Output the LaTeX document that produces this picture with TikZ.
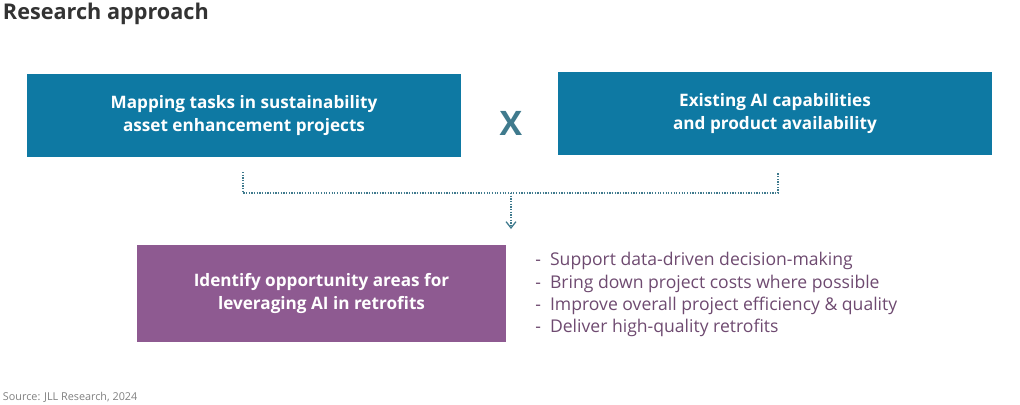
\documentclass[tikz,border=0pt]{standalone}
\usepackage{fontspec}
\setmainfont{Open Sans}
\usetikzlibrary{positioning, arrows.meta}

\definecolor{taskblue}{HTML}{0E79A3}
\definecolor{crossgrey}{HTML}{3F7A8D}
\definecolor{areapurple}{HTML}{8E5A91}
\definecolor{listpurple}{HTML}{6E4A70}
\definecolor{titlegrey}{HTML}{333333}

\begin{document}
\begin{tikzpicture}[x=0.025cm, y=-0.025cm,
    box/.style={draw=none, fill=taskblue, text=white, align=center,
        font=\fontsize{12.2}{17}\selectfont\bfseries, inner sep=0pt},
    dots/.style={densely dotted, draw=crossgrey, line width=0.9pt},
    >={Straight Barb[length=4.5pt, width=7pt, line width=0.9pt]}]
    \useasboundingbox (0,0) rectangle (1020,404);

    \node[anchor=west, text=titlegrey, font=\fontsize{15.4}{18}\selectfont\bfseries] (title) at (-2,14) {Research approach};

    % top row
    \node[box, minimum width=434*0.025cm, minimum height=83*0.025cm] (tasks) at (244,115.5)
        {Mapping tasks in sustainability\\asset enhancement projects};
    \node[box, minimum width=434*0.025cm, minimum height=83*0.025cm] (ai) at (775,113.5)
        {Existing AI capabilities\\and product availability};
    \node[text=crossgrey, font=\fontsize{24}{24}\selectfont\bfseries] (cross) at (511,123) {X};

    % bottom row
    \node[box, fill=areapurple, minimum width=369*0.025cm, minimum height=97*0.025cm] (areas) at (321.5,293.5)
        {Identify opportunity areas for\\leveraging AI in retrofits};
    \node[anchor=north west, text=listpurple, align=left, inner sep=0pt,
        font=\fontsize{12.5}{15.9}\selectfont] (goals) at (535,252)
        {-\ \ Support data-driven decision-making\\
         -\ \ Bring down project costs where possible\\
         -\ \ Improve overall project efficiency \& quality\\
         -\ \ Deliver high-quality retrofits};

    \node[anchor=west, text=gray, font=\fontsize{7.7}{9}\selectfont] (source) at (-2,397) {Source: JLL Research, 2024};

    % dotted joiner
    \coordinate (tl) at (243,172);
    \coordinate (tr) at (778,172);
    \coordinate (mid) at (511,193);
    \coordinate (tip) at (511,229);
    \draw[dots] (tl) |- (mid) -| (tr);
    \draw[dots, ->] (mid) -- (tip);
\end{tikzpicture}
\end{document}
